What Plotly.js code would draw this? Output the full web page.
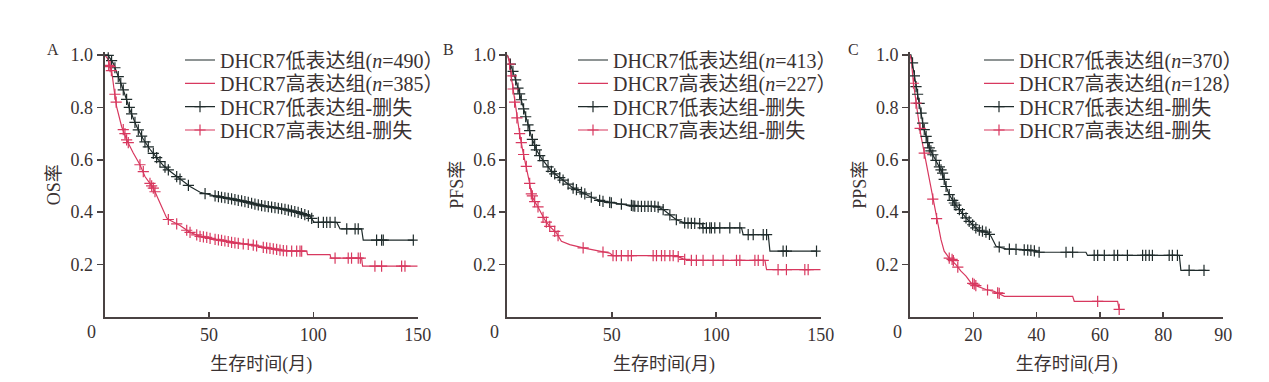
<!DOCTYPE html>
<html>
<head>
<meta charset="utf-8">
<script src="https://cdn.plot.ly/plotly-3.0.1.min.js"></script>
<style>html,body{margin:0;padding:0;background:#fff;}#chart{width:1269px;height:382px;}</style>
</head>
<body>
<div id="chart"></div>
<script>
// ---------- Panel A: OS ----------
const osLowT  = [0,1.5,4.1,6.5,8.9,12.1,15.3,18.5,21.7,24.9,28.1,31.3,34.5,36.1,40.9,45.7,48.9,53.7,61.6,69.6,77.6,85.6,93.6,98.4,100.4,111.2,112.8,123.1,123.9,147.9];
const osLowS  = [1,1.0,0.968,0.917,0.867,0.790,0.727,0.678,0.640,0.608,0.578,0.556,0.536,0.526,0.498,0.476,0.470,0.460,0.450,0.435,0.422,0.412,0.397,0.384,0.361,0.361,0.336,0.336,0.293,0.293];
const osHighT = [0,1.5,2.6,3.4,4.5,5.7,8.1,10.5,13.7,16.9,19.3,23.3,26.5,29.7,31.3,36.1,40.9,45.7,53.7,61.6,69.6,77.6,85.6,93.6,96.8,97.2,108.0,108.4,123.1,123.6,150];
const osHighS = [1,0.985,0.955,0.936,0.867,0.803,0.727,0.676,0.626,0.581,0.536,0.492,0.435,0.378,0.369,0.349,0.323,0.308,0.295,0.283,0.276,0.264,0.253,0.251,0.251,0.238,0.238,0.225,0.225,0.194,0.194];
const osLowCensT  = [1.7,3.3,4.9,6.5,7.7,8.9,10.5,11.8,12.9,14.5,16.1,17.7,19.3,20.9,23.3,24.9,26.5,28.9,30.5,34.5,36.1,40.1,48.1,52.9,54.5,56.0,57.6,59.2,60.8,62.4,64.0,65.6,67.2,68.8,70.4,72.0,73.6,75.2,76.8,78.4,80.0,81.6,83.2,84.8,86.4,88.0,89.5,91.1,92.7,94.3,95.9,97.6,99.2,102.4,104.8,106.4,108.0,110.4,116.0,120.0,121.5,130.3,132.7,133.5,147.9];
const osLowCensS  = [0.998,0.978,0.951,0.917,0.892,0.867,0.830,0.800,0.775,0.743,0.714,0.690,0.668,0.649,0.624,0.608,0.593,0.572,0.561,0.536,0.526,0.502,0.471,0.462,0.459,0.457,0.455,0.453,0.451,0.448,0.445,0.443,0.440,0.437,0.434,0.431,0.428,0.425,0.423,0.421,0.419,0.417,0.415,0.413,0.411,0.408,0.405,0.402,0.399,0.395,0.391,0.386,0.376,0.361,0.361,0.361,0.361,0.361,0.336,0.336,0.336,0.293,0.293,0.293,0.293];
const osHighCensT = [1.9,2.6,3.2,4.9,5.5,8.9,9.7,10.5,11.3,16.9,18.5,21.7,22.5,23.3,24.1,30.5,34.5,39.3,40.9,44.1,45.7,47.3,48.9,50.5,52.9,54.5,56.0,57.6,59.2,60.8,62.4,64.0,66.4,68.8,71.2,72.8,76.0,77.6,79.2,80.8,82.4,84.0,85.6,87.2,89.6,92.0,93.6,94.4,110.4,116.7,118.3,121.5,122.5,129.5,132.7,142.3,143.9];
const osHighCensS = [0.960,0.955,0.940,0.850,0.820,0.715,0.700,0.676,0.665,0.581,0.555,0.510,0.500,0.492,0.478,0.372,0.355,0.331,0.323,0.313,0.308,0.306,0.304,0.300,0.296,0.294,0.292,0.290,0.288,0.285,0.283,0.281,0.279,0.277,0.274,0.271,0.266,0.264,0.262,0.260,0.258,0.255,0.253,0.252,0.251,0.251,0.251,0.251,0.225,0.225,0.225,0.225,0.225,0.194,0.194,0.194,0.194];

// ---------- Panel B: PFS ----------
const pfsLowT  = [0,1.9,3.5,5.1,6.7,8.3,9.9,11.5,13.9,16.3,18.7,21.1,24.3,27.5,31.5,36.3,41.0,45.8,50.6,57.0,61.8,71.4,74.6,77.8,80.9,84.9,91.3,93.2,93.7,112.1,112.9,124.9,125.7,148.0];
const pfsLowS  = [1,0.956,0.917,0.873,0.829,0.778,0.733,0.689,0.638,0.606,0.581,0.556,0.537,0.517,0.492,0.473,0.454,0.441,0.435,0.429,0.422,0.422,0.410,0.390,0.371,0.359,0.356,0.356,0.340,0.340,0.314,0.314,0.251,0.251];
const pfsHighT = [0,0.8,1.5,2.4,3.5,4.6,5.9,7.5,9.1,10.7,11.6,13.1,14.7,16.3,17.9,20.3,23.5,25.9,29.9,36.3,41.0,44.2,49.0,50.6,80.9,84.1,87.3,123.3,124.1,150];
const pfsHighS = [1,0.980,0.940,0.890,0.820,0.760,0.700,0.630,0.575,0.510,0.467,0.440,0.420,0.397,0.371,0.346,0.321,0.289,0.276,0.264,0.257,0.251,0.244,0.234,0.234,0.222,0.216,0.216,0.181,0.181];
const pfsLowCensT  = [1.5,2.7,4.0,5.1,5.9,6.7,7.8,8.8,9.9,10.7,12.0,13.1,13.9,15.5,17.1,19.5,21.1,22.7,25.1,26.7,29.1,31.5,33.1,35.5,37.1,40.2,44.2,45.8,49.0,49.8,54.6,59.4,60.2,61.0,62.6,64.2,65.8,67.4,68.9,70.6,72.2,74.6,77.8,80.9,84.9,86.5,88.1,89.7,92.1,93.7,95.3,96.9,97.7,99.3,101.7,106.5,111.3,115.3,117.7,122.5,124.1,132.0,133.6,148.0];
const pfsLowCensS  = [0.965,0.937,0.905,0.873,0.851,0.829,0.794,0.764,0.733,0.711,0.678,0.655,0.638,0.616,0.597,0.573,0.556,0.546,0.532,0.522,0.507,0.492,0.486,0.476,0.470,0.457,0.445,0.441,0.437,0.436,0.431,0.426,0.424,0.423,0.422,0.422,0.422,0.422,0.422,0.422,0.419,0.410,0.390,0.371,0.359,0.358,0.357,0.357,0.356,0.340,0.340,0.340,0.340,0.340,0.340,0.340,0.340,0.314,0.314,0.314,0.314,0.251,0.251,0.251];
const pfsHighCensT = [1.1,1.9,2.7,3.5,4.6,5.9,6.7,7.8,9.1,10.7,11.5,12.0,13.1,14.7,17.1,18.7,20.3,22.7,24.3,36.3,45.8,50.6,52.2,54.6,57.8,59.4,69.8,71.4,73.8,75.4,77.8,79.4,81.8,84.9,88.1,90.5,93.7,98.5,103.3,109.7,111.3,118.5,120.1,122.5,129.6,133.6,142.4,144.0];
const pfsHighCensS = [0.965,0.920,0.870,0.820,0.760,0.700,0.665,0.620,0.575,0.510,0.470,0.462,0.440,0.420,0.380,0.362,0.346,0.327,0.310,0.264,0.248,0.234,0.234,0.234,0.234,0.234,0.234,0.234,0.234,0.234,0.234,0.234,0.230,0.220,0.216,0.216,0.216,0.216,0.216,0.216,0.216,0.216,0.216,0.216,0.181,0.181,0.181,0.181];

// ---------- Panel C: PPS ----------
const ppsLowT  = [0,0.3,1.1,1.9,2.7,3.5,4.2,5.1,5.9,7.2,8.7,10.3,11.4,12.4,14.0,15.6,17.7,19.8,21.4,24.5,25.6,27.2,30.3,38.7,40.8,55.6,56.1,85.1,85.6,93.5];
const ppsLowS  = [1,1.0,0.943,0.879,0.829,0.778,0.727,0.689,0.651,0.619,0.587,0.549,0.498,0.467,0.435,0.410,0.378,0.352,0.333,0.321,0.308,0.270,0.260,0.254,0.247,0.247,0.235,0.235,0.178,0.178];
const ppsHighT = [0,0.4,1.1,1.9,2.7,3.5,4.5,5.6,6.6,7.7,8.7,9.8,10.8,12.4,14.5,16.1,17.7,19.3,21.4,24.0,26.6,28.2,29.8,51.4,51.9,65.6,66.1];
const ppsHighS = [1,0.980,0.892,0.816,0.752,0.689,0.625,0.562,0.486,0.422,0.359,0.295,0.251,0.225,0.200,0.175,0.156,0.130,0.117,0.105,0.098,0.090,0.079,0.079,0.060,0.060,0.029];
const ppsLowCensT  = [0.8,1.4,1.9,2.4,2.9,3.5,4.0,4.5,5.1,5.6,6.1,6.6,7.2,8.2,9.3,9.8,10.3,10.8,11.4,12.4,13.5,14.0,14.5,15.6,16.6,17.7,18.7,19.8,20.8,21.9,22.9,24.0,25.1,28.2,31.4,33.5,36.1,37.2,38.2,39.3,40.8,49.3,51.4,58.2,59.3,61.4,64.5,65.6,68.7,73.5,74.5,75.6,76.6,81.9,82.9,84.5,88.2,92.9];
const ppsLowCensS  = [0.970,0.920,0.879,0.850,0.815,0.778,0.740,0.715,0.689,0.665,0.645,0.634,0.619,0.598,0.573,0.561,0.549,0.525,0.498,0.467,0.445,0.435,0.427,0.410,0.395,0.378,0.365,0.352,0.340,0.331,0.328,0.324,0.315,0.267,0.259,0.258,0.256,0.255,0.254,0.252,0.247,0.247,0.247,0.235,0.235,0.235,0.235,0.235,0.235,0.235,0.235,0.235,0.235,0.235,0.235,0.235,0.178,0.178];
const ppsHighCensT = [1.1,1.9,3.2,4.5,7.2,8.4,12.4,13.3,13.7,15.1,19.8,20.3,20.8,24.5,27.7,28.2,59.3,66.1];
const ppsHighCensS = [0.892,0.816,0.720,0.625,0.450,0.375,0.225,0.220,0.215,0.190,0.128,0.125,0.120,0.103,0.092,0.090,0.060,0.029];

// ---------- labels ----------
const panelLetters = ['A','B','C'];
const yTitles = ['OS率','PFS率','PPS率'];
const xTitle = '生存时间(月)';
const groupN = [[490,385],[413,227],[370,128]];
const yTickVals = [0.2,0.4,0.6,0.8,1.0];
const yTickText = ['0.2','0.4','0.6','0.8','1.0'];
const abTickVals = [0,50,100,150];
const abTickText = ['','50','100','150'];
const cTickVals = [0,20,40,60,80,99];
const cTickText = ['','20','40','60','80','90'];
const originLabel = '0';

// ---------- styling ----------
const BLACK = '#1f2b2b';
const RED = '#d8385f';
const AX = '#4a4343';
const TXT = '#3a3232';
const SERIF = '"Liberation Serif", "Noto Sans CJK SC", serif';

function gapped(t, s) {
  const x = [], y = [];
  for (let i = 0; i < t.length; i++) { x.push(t[i], null); y.push(s[i], null); }
  return {x, y};
}

const panels = [
  {lowT: osLowT, lowS: osLowS, highT: osHighT, highS: osHighS, lcT: osLowCensT, lcS: osLowCensS, hcT: osHighCensT, hcS: osHighCensS},
  {lowT: pfsLowT, lowS: pfsLowS, highT: pfsHighT, highS: pfsHighS, lcT: pfsLowCensT, lcS: pfsLowCensS, hcT: pfsHighCensT, hcS: pfsHighCensS},
  {lowT: ppsLowT, lowS: ppsLowS, highT: ppsHighT, highS: ppsHighS, lcT: ppsLowCensT, lcS: ppsLowCensS, hcT: ppsHighCensT, hcS: ppsHighCensS}
];

const lgName = k => (k === 1 ? 'legend' : 'legend' + k);
const traces = [];
panels.forEach((p, i) => {
  const xa = i === 0 ? 'x' : 'x' + (i + 1);
  const ya = i === 0 ? 'y' : 'y' + (i + 1);
  const base = 4 * i;
  traces.push({x: p.lowT, y: p.lowS, xaxis: xa, yaxis: ya, legend: lgName(base + 1), mode: 'lines', line: {color: BLACK, width: 1.2},
    name: 'DHCR7低表达组(<i>n</i>=' + groupN[i][0] + '）', hoverinfo: 'skip'});
  traces.push({x: p.highT, y: p.highS, xaxis: xa, yaxis: ya, legend: lgName(base + 2), mode: 'lines', line: {color: RED, width: 1.2},
    name: 'DHCR7高表达组(<i>n</i>=' + groupN[i][1] + '）', hoverinfo: 'skip'});
  const lc = gapped(p.lcT, p.lcS);
  traces.push({x: lc.x, y: lc.y, xaxis: xa, yaxis: ya, legend: lgName(base + 3), mode: 'lines+markers', connectgaps: false,
    line: {color: BLACK, width: 1.2}, marker: {symbol: 'cross-thin-open', size: 8, line: {color: BLACK, width: 1.2}},
    name: 'DHCR7低表达组-删失', hoverinfo: 'skip'});
  const hc = gapped(p.hcT, p.hcS);
  traces.push({x: hc.x, y: hc.y, xaxis: xa, yaxis: ya, legend: lgName(base + 4), mode: 'lines+markers', connectgaps: false,
    line: {color: RED, width: 1.2}, marker: {symbol: 'cross-thin-open', size: 8, line: {color: RED, width: 1.2}},
    name: 'DHCR7高表达组-删失', hoverinfo: 'skip'});
});

const W = 1269, H = 382;
const xPix = [[104.7, 417.7], [507.3, 820.7], [910, 1223.3]];
const yTop = 52.3, yBot = 317;
const layout = {
  width: W, height: H,
  margin: {l: 0, r: 0, t: 0, b: 0},
  paper_bgcolor: '#fff', plot_bgcolor: '#fff',
  font: {family: SERIF, color: TXT, size: 18},
  showlegend: true,
  annotations: []
};
const legendLeft = [180, 573, 979];
const legendRows = [60, 83.3, 106.7, 130];
xPix.forEach((px, i) => {
  const sx = i === 0 ? '' : String(i + 1);
  const isC = i === 2;
  layout['xaxis' + sx] = {
    domain: [px[0] / W, px[1] / W], anchor: 'y' + sx,
    range: isC ? [0, 99] : [0, 150],
    tickmode: 'array', tickvals: isC ? cTickVals : abTickVals, ticktext: isC ? cTickText : abTickText,
    showline: true, linecolor: AX, linewidth: 2, ticks: 'inside', ticklen: 5, tickwidth: 1.5, tickcolor: AX,
    showgrid: false, zeroline: false, ticklabelstandoff: 0,
    tickfont: {family: SERIF, size: 18, color: TXT},
    title: {text: xTitle, font: {family: SERIF, size: 18, color: TXT}, standoff: 14}
  };
  layout['yaxis' + sx] = {
    domain: [1 - yBot / H, 1 - yTop / H], anchor: 'x' + sx,
    range: [0, 1.01],
    tickmode: 'array', tickvals: yTickVals, ticktext: yTickText,
    showline: true, linecolor: AX, linewidth: 2, ticks: 'outside', ticklen: 6, tickwidth: 1.5, tickcolor: AX,
    showgrid: false, zeroline: false,
    tickfont: {family: SERIF, size: 18, color: TXT},
    title: {text: yTitles[i], font: {family: SERIF, size: 18, color: TXT}, standoff: 5}
  };
  legendRows.forEach((ry, r) => {
    layout[lgName(4 * i + r + 1)] = {
      x: legendLeft[i] / W, xanchor: 'left', y: 1 - ry / H, yanchor: 'middle',
      bgcolor: 'rgba(0,0,0,0)', borderwidth: 0,
      font: {family: SERIF, size: 20, color: TXT}, itemwidth: 30
    };
  });
  layout.annotations.push({
    xref: 'paper', yref: 'paper', x: (px[0] - 13) / W, y: 1 - 332 / H, xanchor: 'center', yanchor: 'middle',
    text: originLabel, showarrow: false, font: {family: SERIF, size: 18, color: TXT}
  });
});
const letterPos = [[53, 50], [448, 50], [853, 49]];
panelLetters.forEach((L, i) => {
  layout.annotations.push({
    xref: 'paper', yref: 'paper', x: letterPos[i][0] / W, y: 1 - letterPos[i][1] / H, xanchor: 'center', yanchor: 'middle',
    text: L, showarrow: false, font: {family: SERIF, size: 16, color: TXT}
  });
});

Plotly.newPlot('chart', traces, layout, {staticPlot: true, displayModeBar: false});
</script>
</body>
</html>
